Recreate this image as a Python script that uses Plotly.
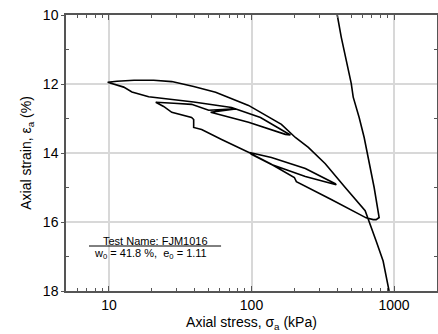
import numpy as np
import plotly.graph_objects as go

# ---- data (axial stress in kPa, axial strain in %) ----
# initial loading (enters from above the plotted range) and small hook at 785 kPa
load_stress = [386.8, 399.4, 426.0, 446.9, 476.9, 500.6, 516.9, 569.0, 616.9, 668.7, 724.8, 785.6, 748.5, 713.3]
load_strain = [9.80, 10.00, 10.64, 11.02, 11.51, 11.98, 12.38, 12.97, 13.55, 14.30, 15.00, 15.87, 15.93, 15.93]

# unloading 785 -> 100 kPa
unload1_stress = [637.1, 362.6, 206.4, 199.8, 135.8, 98.4]
unload1_strain = [15.88, 15.35, 14.83, 14.71, 14.31, 14.01]

# reload/unload loop 100 -> 393 -> 100 kPa
lens_stress = [100.0, 138.0, 238.6, 393.0, 386.8, 238.6, 138.0, 98.4]
lens_strain = [14.04, 14.33, 14.68, 14.92, 14.89, 14.45, 14.13, 13.99]

# unloading 100 -> 21 kPa
unload2_stress = [98.4, 61.7, 44.7, 39.3, 39.3, 38.0, 27.6, 24.2, 21.3]
unload2_strain = [14.01, 13.61, 13.32, 13.26, 13.03, 12.97, 12.82, 12.65, 12.53]

# reloading 21 -> 187 kPa
reload2_stress = [21.3, 28.5, 38.0, 50.1, 77.3, 51.7, 95.3, 172.9, 187.4]
reload2_strain = [12.53, 12.56, 12.59, 12.76, 12.72, 12.82, 13.11, 13.46, 13.48]

# unloading 187 -> 10 kPa
unload3_stress = [187.4, 115.6, 72.5, 39.3, 25.0, 19.0, 14.5, 12.7, 9.8]
unload3_strain = [13.48, 12.97, 12.68, 12.52, 12.44, 12.37, 12.23, 12.09, 11.95]

# reloading 10 kPa -> beyond 900 kPa
reload3_stress = [9.8, 11.4, 15.0, 20.6, 27.6, 39.3, 56.0, 95.3, 162.1, 203.1, 250.4, 329.2,
                  454.3, 626.9, 748.5, 837.8, 922.6, 953.0]
reload3_strain = [11.95, 11.92, 11.89, 11.89, 11.93, 12.07, 12.24, 12.62, 13.17, 13.55, 13.84, 14.31,
                  15.00, 15.67, 16.55, 17.13, 18.00, 18.20]

x_major = [10, 100, 1000]
x_major_labels = ["10", "100", "1000"]
x_minor = [6, 7, 8, 9, 20, 30, 40, 50, 60, 70, 80, 90, 200, 300, 400, 500, 600, 700, 800, 900]
y_major = [10, 12, 14, 16, 18]
y_minor = [11, 13, 15, 17]

stress = np.concatenate([load_stress, unload1_stress, lens_stress, unload2_stress,
                         reload2_stress, unload3_stress, reload3_stress])
strain = np.concatenate([load_strain, unload1_strain, lens_strain, unload2_strain,
                         reload2_strain, unload3_strain, reload3_strain])

FONT = "Liberation Sans, Arial, sans-serif"
AX = "#555555"
GRID = "#d8d8d8"

fig = go.Figure()
fig.add_trace(go.Scatter(x=stress, y=strain, mode="lines",
                         line=dict(color="black", width=1.6), hoverinfo="skip"))

fig.update_layout(
    width=438, height=334,
    margin=dict(l=66, r=1, t=15, b=43),
    paper_bgcolor="white", plot_bgcolor="white",
    font=dict(family=FONT, size=14, color="black"),
    showlegend=False,
)

fig.update_xaxes(
    type="log", range=[np.log10(5), np.log10(2000)],
    tickvals=x_major, ticktext=x_major_labels,
    ticks="inside", ticklen=5, tickcolor=AX, tickwidth=1,
    showline=True, linecolor=AX, linewidth=1.5, mirror="ticks",
    showgrid=True, gridcolor=GRID, gridwidth=1.5, zeroline=False,
    minor=dict(tickvals=x_minor, ticks="inside", ticklen=3, tickcolor=AX, showgrid=False),
    title=dict(text="Axial stress, σ<sub>a</sub> (kPa)", standoff=6, font=dict(size=14)),
    automargin=False,
)
fig.update_yaxes(
    range=[18, 10],
    tickvals=y_major,
    ticks="outside", ticklen=3, tickcolor=AX, tickwidth=1,
    showline=True, linecolor=AX, linewidth=1.5, mirror="ticks",
    showgrid=True, gridcolor=GRID, gridwidth=1.5, zeroline=False,
    minor=dict(tickvals=y_minor, ticks="inside", ticklen=3, tickcolor=AX, showgrid=False),
    title=dict(text="Axial strain, ε<sub>a</sub> (%)", standoff=8, font=dict(size=14)),
    automargin=False,
)

# test information box
fig.add_shape(type="line", xref="paper", yref="paper", x0=0.062, x1=0.418, y0=0.163, y1=0.163,
              line=dict(color="black", width=1))
fig.add_annotation(xref="paper", yref="paper", x=0.240, y=0.181, text="Test Name: FJM1016",
                   showarrow=False, font=dict(family=FONT, size=11, color="black"),
                   xanchor="center", yanchor="middle")
fig.add_annotation(xref="paper", yref="paper", x=0.229, y=0.134,
                   text="w<sub>0</sub> = 41.8 %,  e<sub>0</sub> = 1.11",
                   showarrow=False, font=dict(family=FONT, size=11, color="black"),
                   xanchor="center", yanchor="middle")

fig.write_html("out.html", config={"displayModeBar": False},
               post_script="document.body.style.margin='0';document.body.style.overflow='hidden';")
